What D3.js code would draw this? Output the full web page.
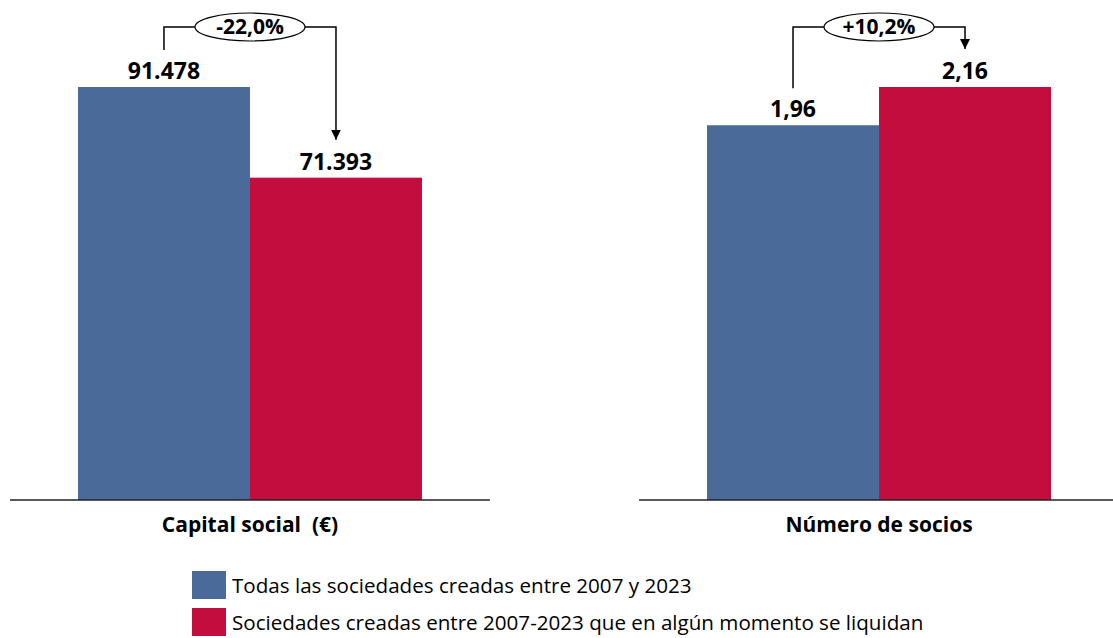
<!DOCTYPE html>
<html>
<head>
<meta charset="utf-8">
<script src="https://cdn.jsdelivr.net/npm/d3@7"></script>
<style>
  body { margin: 0; background: #fff; }
  svg { font-family: "Open Sans", sans-serif; }
</style>
</head>
<body>
<svg id="chart"></svg>
<script>
// datos
const panels = ["Capital social  (€)", "Número de socios"];
const seriesNames = [
  "Todas las sociedades creadas entre 2007 y 2023",
  "Sociedades creadas entre 2007-2023 que en algún momento se liquidan"
];
const todas = [91478, 1.96];
const liquidan = [71393, 2.16];
const valueLabels = [["91.478", "71.393"], ["1,96", "2,16"]];
const changeLabels = ["-22,0%", "+10,2%"];
const colors = ["#4a6b9a", "#c30d3e"];

const width = 1113, height = 638;
const baseY = 500, topY = 87;

const svg = d3.select("#chart")
    .attr("width", width)
    .attr("height", height);

svg.append("defs").append("marker")
    .attr("id", "arrow")
    .attr("viewBox", "0 0 10 10")
    .attr("refX", 10).attr("refY", 5)
    .attr("markerWidth", 10).attr("markerHeight", 10)
    .attr("markerUnits", "userSpaceOnUse")
    .attr("orient", "auto")
    .append("path")
    .attr("d", "M0,0 L10,5 L0,10 Z")
    .attr("fill", "#000");

const xPanel = d3.scaleBand()
    .domain(panels)
    .range([10, 1119])
    .paddingInner(0.237);

panels.forEach((p, i) => {
    const vals = [todas[i], liquidan[i]];
    const x0 = xPanel(p), bw = xPanel.bandwidth();
    const cx = x0 + bw / 2;

    const xBar = d3.scaleBand()
        .domain([0, 1])
        .range([cx - 172, cx + 172]);

    const y = d3.scaleLinear()
        .domain([0, d3.max(vals)])
        .range([baseY, topY]);

    const g = svg.append("g");

    g.selectAll("rect")
        .data(vals)
        .enter()
        .append("rect")
        .attr("x", (d, j) => xBar(j))
        .attr("y", d => y(d))
        .attr("width", xBar.bandwidth())
        .attr("height", d => baseY - y(d))
        .attr("fill", (d, j) => colors[j]);

    // eje base
    g.append("line")
        .attr("x1", x0).attr("x2", x0 + bw)
        .attr("y1", baseY).attr("y2", baseY)
        .attr("stroke", "#222")
        .attr("stroke-width", 1.5);

    g.selectAll(".val")
        .data(vals)
        .enter()
        .append("text")
        .attr("x", (d, j) => xBar(j) + xBar.bandwidth() / 2)
        .attr("y", d => y(d) - 8)
        .attr("text-anchor", "middle")
        .attr("font-size", 23)
        .attr("font-weight", "bold")
        .text((d, j) => valueLabels[i][j]);

    g.append("text")
        .attr("x", cx)
        .attr("y", 532)
        .attr("text-anchor", "middle")
        .attr("font-size", 21)
        .attr("font-weight", "bold")
        .style("white-space", "pre")
        .text(p);

    // flecha de variacion
    const ax1 = xBar(0) + xBar.bandwidth() / 2;
    const ax2 = xBar(1) + xBar.bandwidth() / 2;
    const bracketY = 27;
    g.append("path")
        .attr("d", `M${ax1},${y(vals[0]) - 37} V${bracketY} H${ax2} V${y(vals[1]) - 38}`)
        .attr("fill", "none")
        .attr("stroke", "#000")
        .attr("stroke-width", 1.5)
        .attr("marker-end", "url(#arrow)");

    g.append("ellipse")
        .attr("cx", cx).attr("cy", bracketY)
        .attr("rx", 55).attr("ry", 14)
        .attr("fill", "#fff")
        .attr("stroke", "#000")
        .attr("stroke-width", 1.2);

    g.append("text")
        .attr("x", cx).attr("y", bracketY + 7)
        .attr("text-anchor", "middle")
        .attr("font-size", 21)
        .attr("font-weight", "bold")
        .text(changeLabels[i]);
});

// leyenda
const legend = svg.append("g")
    .selectAll("g")
    .data(seriesNames)
    .enter()
    .append("g")
    .attr("transform", (d, i) => `translate(192, ${571 + i * 37})`);

legend.append("rect")
    .attr("width", 34).attr("height", 28)
    .attr("fill", (d, i) => colors[i]);

legend.append("text")
    .attr("x", 40).attr("y", 22)
    .attr("font-size", 20.6)
    .text(d => d);
</script>
</body>
</html>
